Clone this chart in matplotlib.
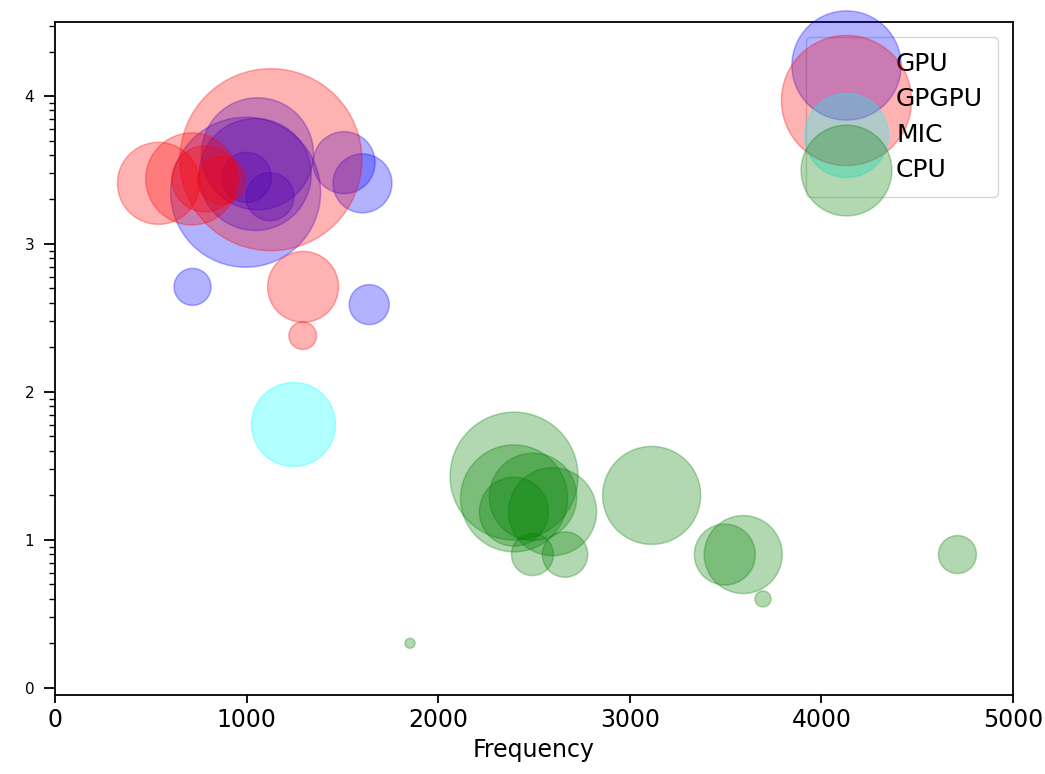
import numpy as np
import matplotlib
matplotlib.use("Agg")
import matplotlib.pyplot as plt
from matplotlib.ticker import FixedLocator

# GPU
gpu_x = [995, 1045, 1057, 1000, 1122, 1509, 1605, 718, 1640]
gpu_y = [3.35, 3.47, 3.61, 3.45, 3.32, 3.55, 3.41, 2.71, 2.59]
gpu_s = [11666, 6504, 6504, 1296, 1195, 1993, 1805, 710, 830]

# GPGPU
gpgpu_x = [1127, 540, 714, 783, 870, 1295, 1293]
gpgpu_y = [3.57, 3.41, 3.44, 3.44, 3.43, 2.71, 2.38]
gpgpu_s = [17175, 3486, 4389, 2259, 1195, 2614, 395]

# MIC
mic_x = [1240]
mic_y = [1.78]
mic_s = [3659]

# CPU
cpu_x = [2396, 2396, 2495, 2395, 2597, 2492, 2662, 3114, 3496, 3592, 3695, 4710, 1853]
cpu_y = [1.43, 1.28, 1.29, 1.19, 1.19, 0.90, 0.90, 1.30, 0.90, 0.90, 0.60, 0.90, 0.30]
cpu_s = [8495, 5936, 3961, 2469, 4015, 915, 1069, 4980, 1929, 3155, 133, 749, 52]

fig = plt.figure(figsize=(10.45, 7.74), dpi=100)
ax = fig.add_axes([0.0526, 0.102, 0.9168, 0.8694])

ax.scatter(gpu_x, gpu_y, s=gpu_s, c='blue', alpha=0.3, linewidths=1.1, label='GPU')
ax.scatter(gpgpu_x, gpgpu_y, s=gpgpu_s, c='red', alpha=0.3, linewidths=1.1, label='GPGPU')
ax.scatter(mic_x, mic_y, s=mic_s, c='cyan', alpha=0.3, linewidths=1.1, label='MIC')
ax.scatter(cpu_x, cpu_y, s=cpu_s, c='green', alpha=0.3, linewidths=1.1, label='CPU')

ax.set_xlim(0, 5000)
ax.set_ylim(-0.05, 4.5)
ax.set_xticks([0, 1000, 2000, 3000, 4000, 5000])
ax.set_yticks([0, 1, 2, 3, 4])

# log-style minor ticks between the integer levels
minor = [n + np.log10(k) for n in range(5) for k in range(2, 10)]
ax.yaxis.set_minor_locator(FixedLocator([m for m in minor if m < 4.5]))

ax.tick_params(axis='x', labelsize=17, length=6, width=1.3)
ax.tick_params(axis='y', which='major', labelsize=11, length=8, width=1.3, pad=7)
ax.tick_params(axis='y', which='minor', length=4, width=1.0)
for sp in ax.spines.values():
    sp.set_linewidth(1.3)

ax.set_xlabel('Frequency', fontsize=17)

ax.legend(loc='upper right', fontsize=18, scatterpoints=1, borderaxespad=0.6,
          borderpad=0.6, labelspacing=0.45, handletextpad=1.0)

fig.savefig('out.png', dpi=100)
